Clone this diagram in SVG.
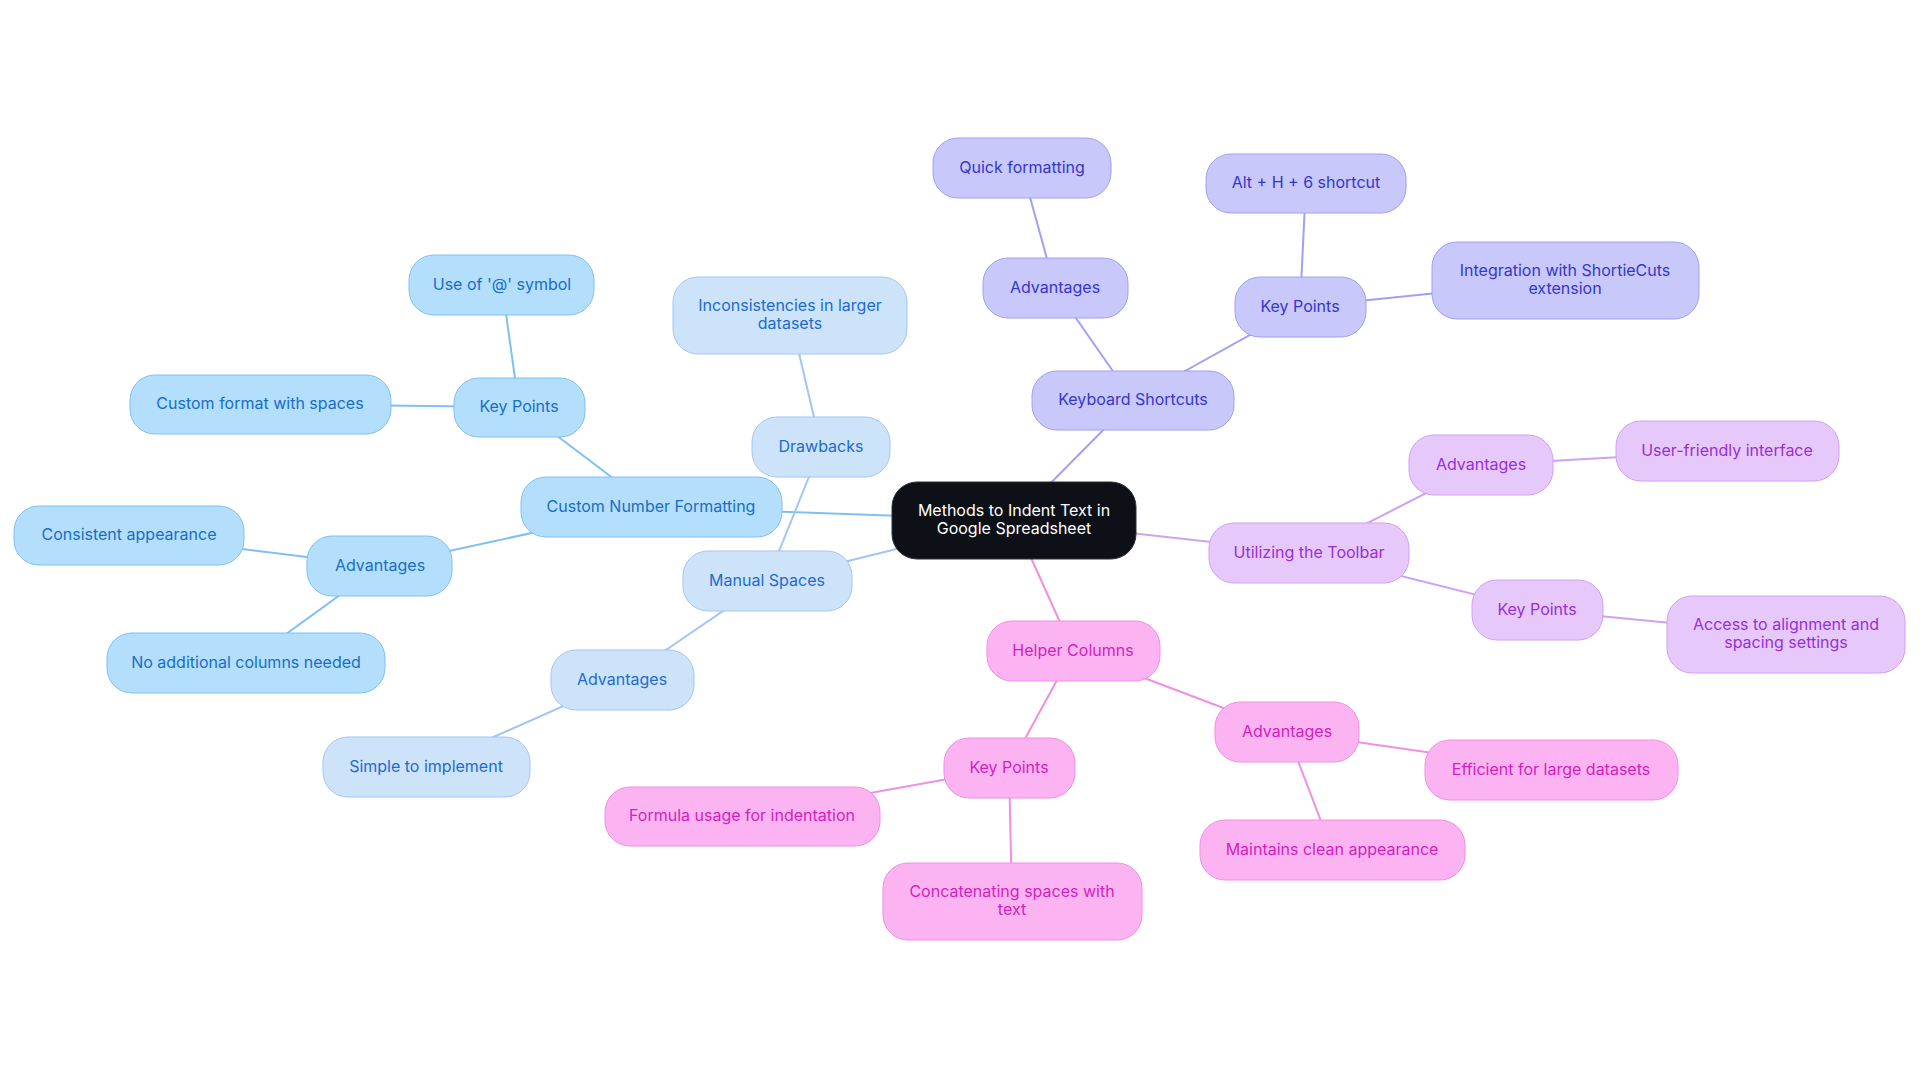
<svg xmlns="http://www.w3.org/2000/svg" width="1920" height="1083" viewBox="0 0 1920 1083">
<style>
text{font-family:Inter,"Noto Sans","Liberation Sans",sans-serif;font-size:16px;text-anchor:middle;dominant-baseline:central;transform:translateY(-1px)}
.e{fill:none;stroke-width:2}
.b1 rect{fill:#b3dffc;stroke:#7fc0f0;stroke-width:1}
.b1 text{fill:#1a6dc6}
.b2 rect{fill:#cde3fa;stroke:#a2c6f1;stroke-width:1}
.b2 text{fill:#1d6bd0}
.b3 rect{fill:#c8c8fb;stroke:#a0a0f3;stroke-width:1}
.b3 text{fill:#3636cc}
.b4 rect{fill:#e7c8fb;stroke:#d0a0f3;stroke-width:1}
.b4 text{fill:#9630d6}
.b5 rect{fill:#fcb3f2;stroke:#f08fe0;stroke-width:1}
.b5 text{fill:#d21fbe}
.e1{stroke:#80c0f0}.e2{stroke:#a2c6f1}.e3{stroke:#a0a0f3}.e4{stroke:#d0a0f3}.e5{stroke:#f08fe0}
</style>
<rect width="1920" height="1083" fill="#ffffff"/>
<g id="connectors">
<line class="e e1" x1="1014" y1="520" x2="651" y2="507"/>
<line class="e e1" x1="651" y1="507" x2="519" y2="407"/>
<line class="e e1" x1="519" y1="407" x2="502" y2="285"/>
<line class="e e1" x1="519" y1="407" x2="260" y2="404"/>
<line class="e e1" x1="651" y1="507" x2="380" y2="566"/>
<line class="e e1" x1="380" y1="566" x2="129" y2="535"/>
<line class="e e1" x1="380" y1="566" x2="246" y2="663"/>
<line class="e e2" x1="1014" y1="520" x2="767" y2="581"/>
<line class="e e2" x1="767" y1="581" x2="821" y2="447"/>
<line class="e e2" x1="821" y1="447" x2="790" y2="315"/>
<line class="e e2" x1="767" y1="581" x2="622" y2="680"/>
<line class="e e2" x1="622" y1="680" x2="426" y2="767"/>
<line class="e e3" x1="1014" y1="520" x2="1133" y2="400"/>
<line class="e e3" x1="1133" y1="400" x2="1055" y2="288"/>
<line class="e e3" x1="1055" y1="288" x2="1022" y2="168"/>
<line class="e e3" x1="1133" y1="400" x2="1300" y2="307"/>
<line class="e e3" x1="1300" y1="307" x2="1306" y2="183"/>
<line class="e e3" x1="1300" y1="307" x2="1565" y2="280"/>
<line class="e e4" x1="1014" y1="520" x2="1309" y2="553"/>
<line class="e e4" x1="1309" y1="553" x2="1481" y2="465"/>
<line class="e e4" x1="1481" y1="465" x2="1727" y2="451"/>
<line class="e e4" x1="1309" y1="553" x2="1537" y2="610"/>
<line class="e e4" x1="1537" y1="610" x2="1786" y2="634"/>
<line class="e e5" x1="1014" y1="520" x2="1073" y2="651"/>
<line class="e e5" x1="1073" y1="651" x2="1287" y2="732"/>
<line class="e e5" x1="1287" y1="732" x2="1551" y2="770"/>
<line class="e e5" x1="1287" y1="732" x2="1332" y2="850"/>
<line class="e e5" x1="1073" y1="651" x2="1009" y2="768"/>
<line class="e e5" x1="1009" y1="768" x2="742" y2="816"/>
<line class="e e5" x1="1009" y1="768" x2="1012" y2="901"/>
</g>
<g id="root"><rect x="892" y="482" width="244" height="77" rx="25" fill="#0d1117" stroke="#2a2f38" stroke-width="1"/><text x="1014" y="511" fill="#ffffff">Methods to Indent Text in</text><text x="1014" y="529" fill="#ffffff">Google Spreadsheet</text></g>
<g id="cnf" class="b1"><rect x="521" y="477" width="261" height="60" rx="25"/><text x="651" y="507">Custom Number Formatting</text></g>
<g id="cnf-kp" class="b1"><rect x="454" y="378" width="131" height="59" rx="25"/><text x="519" y="407">Key Points</text></g>
<g id="cnf-at" class="b1"><rect x="409" y="255" width="185" height="60" rx="25"/><text x="502" y="285">Use of '@' symbol</text></g>
<g id="cnf-cf" class="b1"><rect x="130" y="375" width="261" height="59" rx="25"/><text x="260" y="404">Custom format with spaces</text></g>
<g id="cnf-adv" class="b1"><rect x="307" y="536" width="145" height="60" rx="25"/><text x="380" y="566">Advantages</text></g>
<g id="cnf-ca" class="b1"><rect x="14" y="506" width="230" height="59" rx="25"/><text x="129" y="535">Consistent appearance</text></g>
<g id="cnf-na" class="b1"><rect x="107" y="633" width="278" height="60" rx="25"/><text x="246" y="663">No additional columns needed</text></g>
<g id="ms" class="b2"><rect x="683" y="551" width="169" height="60" rx="25"/><text x="767" y="581">Manual Spaces</text></g>
<g id="ms-dr" class="b2"><rect x="752" y="417" width="138" height="60" rx="25"/><text x="821" y="447">Drawbacks</text></g>
<g id="ms-in" class="b2"><rect x="673" y="277" width="234" height="77" rx="25"/><text x="790" y="306">Inconsistencies in larger</text><text x="790" y="324">datasets</text></g>
<g id="ms-adv" class="b2"><rect x="551" y="650" width="143" height="60" rx="25"/><text x="622" y="680">Advantages</text></g>
<g id="ms-si" class="b2"><rect x="323" y="737" width="207" height="60" rx="25"/><text x="426" y="767">Simple to implement</text></g>
<g id="ks" class="b3"><rect x="1032" y="371" width="202" height="59" rx="25"/><text x="1133" y="400">Keyboard Shortcuts</text></g>
<g id="ks-adv" class="b3"><rect x="983" y="258" width="145" height="60" rx="25"/><text x="1055" y="288">Advantages</text></g>
<g id="ks-qf" class="b3"><rect x="933" y="138" width="178" height="60" rx="25"/><text x="1022" y="168">Quick formatting</text></g>
<g id="ks-kp" class="b3"><rect x="1235" y="277" width="131" height="60" rx="25"/><text x="1300" y="307">Key Points</text></g>
<g id="ks-alt" class="b3"><rect x="1206" y="154" width="200" height="59" rx="25"/><text x="1306" y="183">Alt + H + 6 shortcut</text></g>
<g id="ks-int" class="b3"><rect x="1432" y="242" width="267" height="77" rx="25"/><text x="1565" y="271">Integration with ShortieCuts</text><text x="1565" y="289">extension</text></g>
<g id="ut" class="b4"><rect x="1209" y="523" width="200" height="60" rx="25"/><text x="1309" y="553">Utilizing the Toolbar</text></g>
<g id="ut-adv" class="b4"><rect x="1409" y="435" width="144" height="60" rx="25"/><text x="1481" y="465">Advantages</text></g>
<g id="ut-uf" class="b4"><rect x="1616" y="421" width="223" height="60" rx="25"/><text x="1727" y="451">User-friendly interface</text></g>
<g id="ut-kp" class="b4"><rect x="1472" y="580" width="131" height="60" rx="25"/><text x="1537" y="610">Key Points</text></g>
<g id="ut-ac" class="b4"><rect x="1667" y="596" width="238" height="77" rx="25"/><text x="1786" y="625">Access to alignment and</text><text x="1786" y="643">spacing settings</text></g>
<g id="hc" class="b5"><rect x="987" y="621" width="173" height="60" rx="25"/><text x="1073" y="651">Helper Columns</text></g>
<g id="hc-adv" class="b5"><rect x="1215" y="702" width="144" height="60" rx="25"/><text x="1287" y="732">Advantages</text></g>
<g id="hc-ef" class="b5"><rect x="1425" y="740" width="253" height="60" rx="25"/><text x="1551" y="770">Efficient for large datasets</text></g>
<g id="hc-mc" class="b5"><rect x="1200" y="820" width="265" height="60" rx="25"/><text x="1332" y="850">Maintains clean appearance</text></g>
<g id="hc-kp" class="b5"><rect x="944" y="738" width="131" height="60" rx="25"/><text x="1009" y="768">Key Points</text></g>
<g id="hc-fu" class="b5"><rect x="605" y="787" width="275" height="59" rx="25"/><text x="742" y="816">Formula usage for indentation</text></g>
<g id="hc-cs" class="b5"><rect x="883" y="863" width="259" height="77" rx="25"/><text x="1012" y="892">Concatenating spaces with</text><text x="1012" y="910">text</text></g>
</svg>
